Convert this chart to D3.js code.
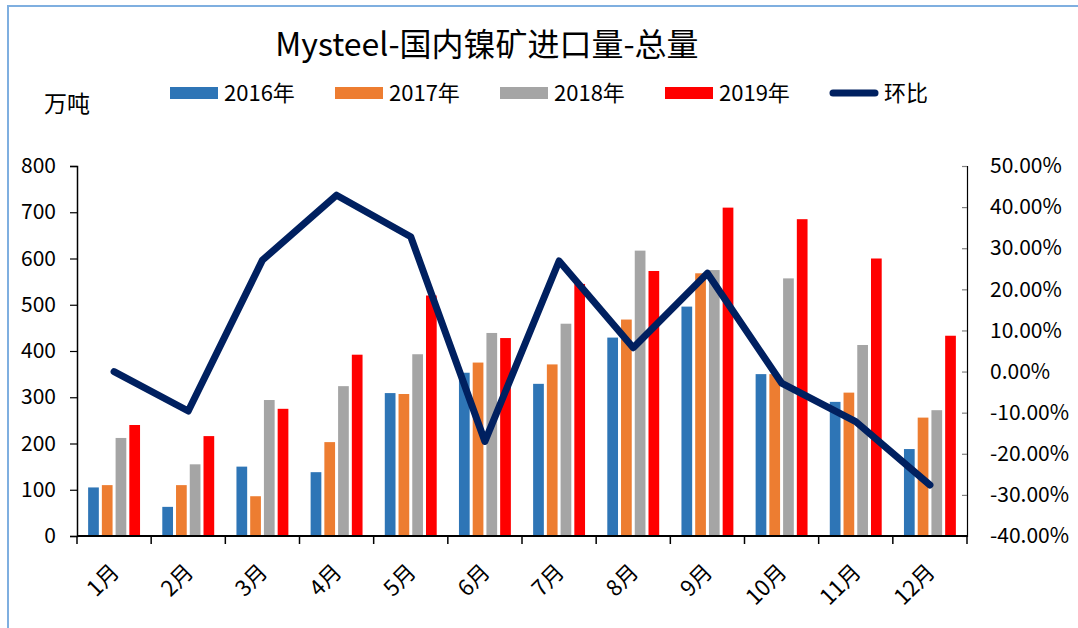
<!DOCTYPE html>
<html>
<head>
<meta charset="utf-8">
<script src="https://cdn.jsdelivr.net/npm/d3@7"></script>
<style>
  body { margin: 0; background: #fff; }
  svg text { font-family: "Noto Sans CJK SC", "Noto Sans", sans-serif; fill: #000; }
</style>
</head>
<body>
<div id="chartDiv"></div>
<script>
// data
var months = ["1月","2月","3月","4月","5月","6月","7月","8月","9月","10月","11月","12月"];
var series = ["2016年","2017年","2018年","2019年"];
var v2016 = [105, 63, 150, 138, 309, 353, 329, 429, 496, 350, 290, 188];
var v2017 = [110, 110, 86, 203, 307, 375, 371, 468, 568, 350, 310, 256];
var v2018 = [212, 155, 294, 324, 393, 439, 459, 617, 575, 557, 413, 272];
var v2019 = [240, 216, 275, 392, 520, 428, 545, 573, 710, 685, 600, 433];
var mom = [0.000, -0.096, 0.271, 0.429, 0.328, -0.170, 0.269, 0.058, 0.239, -0.028, -0.122, -0.276];
var leftTicks = [0, 100, 200, 300, 400, 500, 600, 700, 800];
var rightTicks = [-0.4, -0.3, -0.2, -0.1, 0, 0.1, 0.2, 0.3, 0.4, 0.5];

var colors = ["#2E75B6", "#ED7D31", "#A5A5A5", "#FF0000"];
var lineColor = "#002060";

var svg = d3.select("#chartDiv").append("svg")
    .attr("width", 1078)
    .attr("height", 628);

// outer frame
svg.append("rect")
    .attr("x", 8).attr("y", 6)
    .attr("width", 1200).attr("height", 800)
    .attr("fill", "none")
    .attr("stroke", "#7FAFE0")
    .attr("stroke-width", 2);

var plot = {left: 77, right: 967, top: 166, bottom: 536};

var x0 = d3.scaleBand().domain(months).range([plot.left, plot.right]).padding(0);
var x1 = d3.scaleBand().domain(series)
    .range([x0.bandwidth() * 0.15, x0.bandwidth() * 0.85])
    .paddingInner(0.22).paddingOuter(0);
var yL = d3.scaleLinear().domain([0, 800]).range([plot.bottom, plot.top]);
var yR = d3.scaleLinear().domain([-0.4, 0.5]).range([plot.bottom, plot.top]);

// title
svg.append("text")
    .attr("x", 487).attr("y", 56)
    .attr("text-anchor", "middle")
    .style("font-size", "32px")
    .text("Mysteel-国内镍矿进口量-总量");

// unit label
svg.append("text")
    .attr("x", 44).attr("y", 112)
    .style("font-size", "23px")
    .text("万吨");

// bars
var table = [v2016, v2017, v2018, v2019];
var groups = svg.append("g").selectAll("g")
    .data(months).enter().append("g")
    .attr("transform", function(d) { return "translate(" + x0(d) + ",0)"; });

groups.selectAll("rect")
    .data(function(d, i) { return series.map(function(s, k) { return {s: s, k: k, v: table[k][i]}; }); })
    .enter().append("rect")
    .attr("x", function(d) { return x1(d.s); })
    .attr("width", x1.bandwidth())
    .attr("y", function(d) { return yL(d.v); })
    .attr("height", function(d) { return yL(0) - yL(d.v); })
    .attr("fill", function(d) { return colors[d.k]; });

// left axis
var leftAxis = svg.append("g")
    .attr("transform", "translate(" + plot.left + ",0)")
    .call(d3.axisLeft(yL).tickValues(leftTicks).tickSize(7).tickPadding(14));
leftAxis.selectAll("text").style("font-size", "21px");
leftAxis.select(".domain").attr("stroke", "#000").attr("stroke-width", 1.5);
leftAxis.selectAll(".tick line").attr("stroke", "#000").attr("stroke-width", 1.2);

// right axis
var rightAxis = svg.append("g")
    .attr("transform", "translate(" + plot.right + ",0)")
    .call(d3.axisRight(yR).tickValues(rightTicks).tickSize(-5).tickPadding(23)
        .tickFormat(function(d) { return (d * 100).toFixed(2) + "%"; }));
rightAxis.selectAll("text").style("font-size", "21px");
rightAxis.select(".domain").attr("stroke", "#000").attr("stroke-width", 1.2);
rightAxis.selectAll(".tick line").attr("stroke", "#808080").attr("stroke-width", 1.2);

// bottom axis
var bottom = svg.append("g").attr("transform", "translate(0," + plot.bottom + ")");
bottom.append("line")
    .attr("x1", plot.left).attr("x2", plot.right)
    .attr("stroke", "#000").attr("stroke-width", 2);
bottom.selectAll("line.tk")
    .data(months.concat(["end"])).enter().append("line")
    .attr("class", "tk")
    .attr("x1", function(d) { return d === "end" ? plot.right : x0(d); })
    .attr("x2", function(d) { return d === "end" ? plot.right : x0(d); })
    .attr("y1", 0).attr("y2", 8)
    .attr("stroke", "#000").attr("stroke-width", 1.5);
bottom.selectAll("text")
    .data(months).enter().append("text")
    .attr("transform", function(d) {
        return "translate(" + (x0(d) + x0.bandwidth() / 2 + 1) + ",32) rotate(-45)";
    })
    .attr("text-anchor", "end")
    .attr("dy", "0.35em")
    .style("font-size", "22px")
    .text(function(d) { return d; });

// line
var line = d3.line()
    .x(function(d, i) { return x0(months[i]) + x0.bandwidth() / 2; })
    .y(function(d) { return yR(d); });
svg.append("path")
    .datum(mom)
    .attr("d", line)
    .attr("fill", "none")
    .attr("stroke", lineColor)
    .attr("stroke-width", 7)
    .attr("stroke-linecap", "round")
    .attr("stroke-linejoin", "round");

// legend
var legendItems = series.concat(["环比"]);
var legend = svg.append("g").selectAll("g")
    .data(legendItems).enter().append("g")
    .attr("transform", function(d, i) { return "translate(" + (170 + i * 165) + ",93)"; });
legend.each(function(d, i) {
    var g = d3.select(this);
    if (i < 4) {
        g.append("rect").attr("x", 0).attr("y", -6).attr("width", 48).attr("height", 12).attr("fill", colors[i]);
    } else {
        g.append("line").attr("x1", 3).attr("x2", 45).attr("y1", 0).attr("y2", 0)
            .attr("stroke", lineColor).attr("stroke-width", 7).attr("stroke-linecap", "round");
    }
    g.append("text").attr("x", 54).attr("dy", "0.35em").style("font-size", "22px").text(d);
});
</script>
</body>
</html>
